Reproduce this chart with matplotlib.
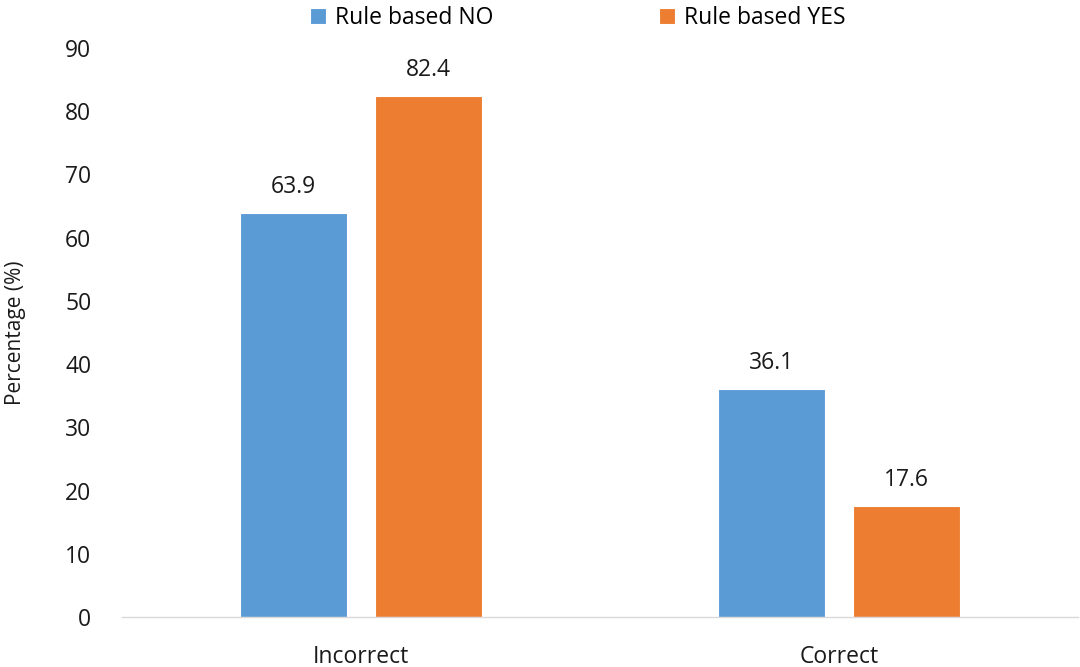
import matplotlib.pyplot as plt
import numpy as np

plt.rcParams['font.family'] = ['Open Sans', 'DejaVu Sans']

# data
categories = ['Incorrect', 'Correct']
series_names = ['Rule based NO', 'Rule based YES']
no_values = [63.9, 36.1]
yes_values = [82.4, 17.6]
colors = ['#5b9bd5', '#ed7d31']

fig = plt.figure(figsize=(10.8, 6.67), dpi=100)
ax = fig.add_axes([0.113, 0.075, 0.885, 0.853])

x = np.arange(len(categories))
w = 0.224
gap = 0.06
off = (w + gap) / 2

b1 = ax.bar(x - off, no_values, w, color=colors[0], label=series_names[0],
            edgecolor='white', linewidth=0.8)
b2 = ax.bar(x + off, yes_values, w, color=colors[1], label=series_names[1],
            edgecolor='white', linewidth=0.8)

for bars, vals in [(b1, no_values), (b2, yes_values)]:
    for b, v in zip(bars, vals):
        ax.text(b.get_x() + b.get_width() / 2, v + 2.2, f'{v:.1f}',
                ha='center', va='bottom', fontsize=16.5, color='#1a1a1a')

ax.set_xlim(-0.5, 1.5)
ax.set_ylim(0, 90)
ax.set_yticks(range(0, 91, 10))
ax.set_xticks(x)
ax.set_xticklabels(categories)
ax.tick_params(axis='both', length=0, labelsize=16.5, colors='#1a1a1a')
ax.tick_params(axis='y', pad=22)
ax.tick_params(axis='x', pad=20)
for s in ['top', 'right', 'left']:
    ax.spines[s].set_visible(False)
ax.spines['bottom'].set_color('#d9d9d9')
ax.spines['bottom'].set_linewidth(1)

fig.text(0.014, 0.075 + 0.853 / 2, 'Percentage (%)', rotation=90,
         ha='center', va='center', fontsize=15, color='#1a1a1a')

fig.legend(loc='center', bbox_to_anchor=(0.535, 0.973), ncol=2, frameon=False,
           fontsize=16.5, handlelength=0.7, handleheight=0.7, handletextpad=0.4,
           columnspacing=7.2)

plt.savefig('out.png', dpi=100)
